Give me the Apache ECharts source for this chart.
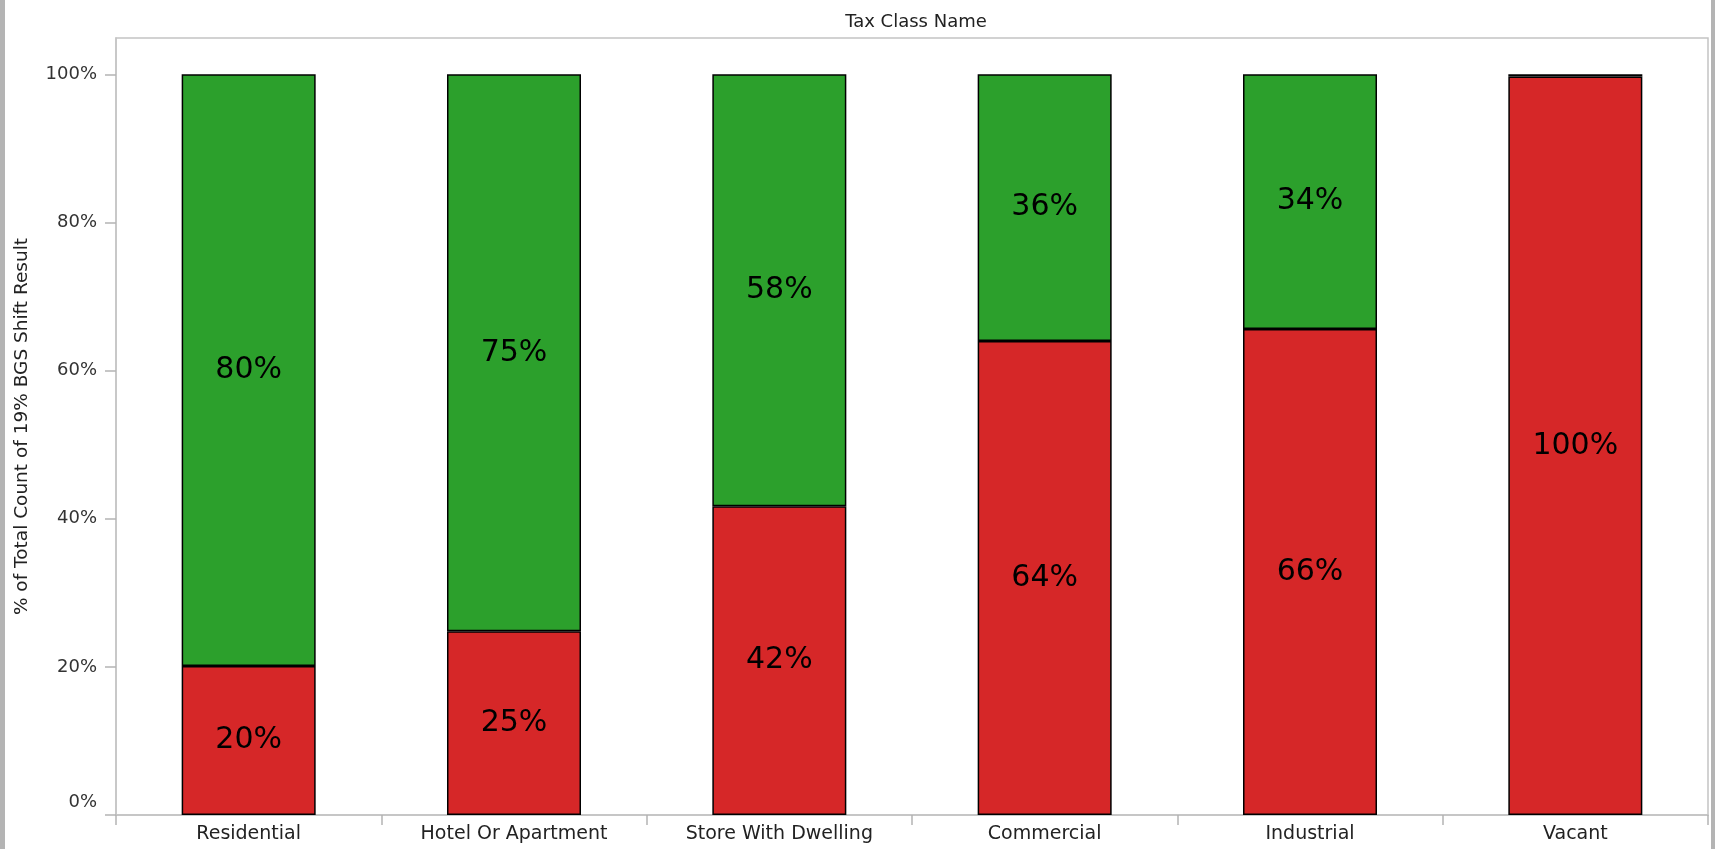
<!DOCTYPE html>
<html>
<head>
<meta charset="utf-8">
<script src="https://cdn.jsdelivr.net/npm/echarts@6/dist/echarts.min.js"></script>
<style>
  html, body { margin: 0; padding: 0; background: #b4b4b4; }
  #main { position: absolute; left: 5px; top: 0; width: 1706px; height: 849px; background: #fff; }
</style>
</head>
<body>
<div id="main"></div>
<script>
  // tax classes and the share of each shift result (%)
  var categories = ['Residential', 'Hotel Or Apartment', 'Store With Dwelling', 'Commercial', 'Industrial', 'Vacant'];
  var redShare = [20.1, 24.8, 41.7, 64.0, 65.6, 99.7];
  var greenShare = [79.9, 75.2, 58.3, 36.0, 34.4, 0.3];
  var yTicks = [0, 20, 40, 60, 80, 100];

  var chart = echarts.init(document.getElementById('main'));

  function pctLabel(p) {
    return p.value < 1 ? '' : Math.round(p.value) + '%';
  }

  var option = {
    animation: false,
    textStyle: { fontFamily: '"DejaVu Sans", sans-serif' },
    title: {
      text: 'Tax Class Name',
      left: 906,
      top: 8,
      textAlign: 'center',
      textStyle: { fontSize: 18, fontWeight: 'normal', color: '#222', fontFamily: '"DejaVu Sans", sans-serif' }
    },
    grid: {
      left: 111,
      right: 3,
      top: 38,
      bottom: 34,
      show: true,
      borderColor: '#c4c4c4',
      borderWidth: 1.5
    },
    xAxis: {
      type: 'category',
      data: categories,
      axisLine: { lineStyle: { color: '#c4c4c4', width: 1.5 } },
      axisTick: { show: true, interval: 0, length: 10, lineStyle: { color: '#b4b4b4', width: 1.5 } },
      axisLabel: { fontSize: 19, color: '#222', margin: 10, interval: 0 }
    },
    yAxis: {
      type: 'value',
      min: 0,
      max: 104.9,
      name: '% of Total Count of 19% BGS Shift Result',
      nameLocation: 'middle',
      nameGap: 84,
      nameTextStyle: { fontSize: 18.5, color: '#222' },
      splitLine: { show: false },
      axisLine: { show: true, lineStyle: { color: '#c4c4c4', width: 1.5 } },
      axisTick: { show: true, length: 11, customValues: yTicks, lineStyle: { color: '#b4b4b4', width: 1.5 } },
      axisLabel: {
        fontSize: 18,
        color: '#333',
        margin: 19,
        customValues: yTicks,
        formatter: function (v) { return v === 0 ? '{z|0%}' : v + '%'; },
        rich: { z: { fontSize: 18, color: '#333', padding: [0, 0, 26, 0] } }
      }
    },
    series: [
      {
        name: 'Red',
        type: 'bar',
        stack: 'total',
        barWidth: 134,
        data: redShare,
        itemStyle: { color: '#d62728', borderColor: '#000', borderWidth: 1.5 },
        label: { show: true, position: 'inside', fontSize: 30, color: '#000', formatter: pctLabel }
      },
      {
        name: 'Green',
        type: 'bar',
        stack: 'total',
        barWidth: 134,
        data: greenShare,
        itemStyle: { color: '#2ca02c', borderColor: '#000', borderWidth: 1.5 },
        label: { show: true, position: 'inside', fontSize: 30, color: '#000', formatter: pctLabel }
      }
    ]
  };

  chart.setOption(option);
</script>
</body>
</html>
